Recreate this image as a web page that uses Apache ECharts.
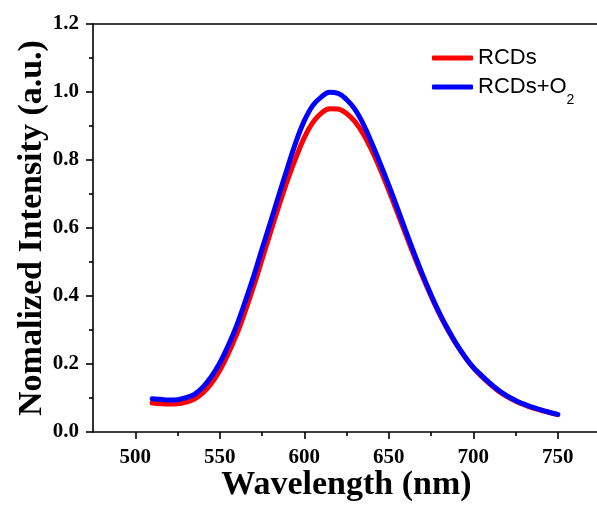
<!DOCTYPE html>
<html>
<head>
<meta charset="utf-8">
<script src="https://cdn.jsdelivr.net/npm/echarts@6/dist/echarts.min.js"></script>
<style>html,body{margin:0;padding:0;background:#fff;}#c{width:597px;height:507px;}</style>
</head>
<body>
<div id="c"></div>
<script>
const wavelength = [510,515,520,525,530,535,540,545,550,555,560,565,570,575,580,585,590,595,600,605,610,615,620,625,630,635,640,645,650,655,660,665,670,675,680,685,690,695,700,705,710,715,720,725,730,735,740,745,750];
const rcds = [0.085,0.083,0.082,0.083,0.088,0.097,0.115,0.143,0.181,0.230,0.287,0.354,0.428,0.507,0.587,0.665,0.739,0.806,0.866,0.910,0.937,0.951,0.950,0.937,0.913,0.876,0.828,0.772,0.711,0.647,0.582,0.518,0.457,0.400,0.347,0.300,0.258,0.221,0.189,0.163,0.140,0.120,0.104,0.091,0.080,0.071,0.064,0.057,0.051];
const rcdsO2 = [0.098,0.096,0.094,0.095,0.101,0.111,0.132,0.163,0.203,0.254,0.313,0.383,0.457,0.538,0.617,0.697,0.776,0.852,0.915,0.960,0.985,0.999,0.996,0.978,0.949,0.905,0.849,0.789,0.726,0.660,0.592,0.526,0.463,0.404,0.350,0.302,0.259,0.222,0.190,0.166,0.143,0.123,0.106,0.093,0.082,0.073,0.065,0.058,0.052];
const xMajorTicks = [500,550,600,650,700,750];
const xMinorTicks = [525,575,625,675,725];
const seriesNames = ['RCDs','RCDs+O2'];

const chart = echarts.init(document.getElementById('c'));
const serif = "'Liberation Serif','Times New Roman',serif";
const sans = "'Liberation Sans',Arial,sans-serif";
const axisLineStyle = {color:'#000', width:1.6};
const xRange = {min:475, max:775};

chart.setOption({
  animation:false,
  backgroundColor:'#fff',
  grid:{left:93, top:24, width:507, height:408, containLabel:false, outerBoundsMode:'none'},
  legend:{
    orient:'vertical', left:427, top:41, itemGap:5,
    itemWidth:41, itemHeight:5, icon:'roundRect',
    data:seriesNames,
    textStyle:{fontFamily:sans, fontSize:22, color:'#000', lineHeight:24,
      rich:{
        t:{fontFamily:sans, fontSize:22, color:'#000', lineHeight:24},
        s:{fontFamily:sans, fontSize:14, color:'#000', verticalAlign:'bottom', lineHeight:24, padding:[0,0,-8,0]}
      }},
    formatter: n => n === 'RCDs+O2' ? '{t|RCDs+O}{s|2}' : '{t|' + n + '}'
  },
  xAxis:[
    {type:'value', ...xRange, position:'bottom',
     name:'Wavelength (nm)', nameLocation:'middle', nameGap:36, nameMoveOverlap:false,
     nameTextStyle:{fontFamily:serif, fontWeight:'bold', fontSize:34, color:'#000'},
     axisLine:{show:true, lineStyle:axisLineStyle},
     axisTick:{show:true, inside:false, length:7, lineStyle:axisLineStyle, customValues:xMajorTicks},
     axisLabel:{show:true, margin:15, fontFamily:serif, fontWeight:'bold', fontSize:21, color:'#000', customValues:xMajorTicks},
     splitLine:{show:false}},
    {type:'value', ...xRange, position:'bottom',
     axisLine:{show:false},
     axisTick:{show:true, inside:false, length:4, lineStyle:axisLineStyle, customValues:xMinorTicks},
     axisLabel:{show:false},
     splitLine:{show:false}},
    {type:'value', ...xRange, position:'top',
     axisLine:{show:true, lineStyle:axisLineStyle},
     axisTick:{show:false}, axisLabel:{show:false}, splitLine:{show:false}}
  ],
  yAxis:{
    type:'value', min:0, max:1.2, interval:0.2,
    name:'Nomalized Intensity (a.u.)', nameLocation:'middle', nameGap:44, nameMoveOverlap:false,
    nameTextStyle:{fontFamily:serif, fontWeight:'bold', fontSize:34, color:'#000'},
    axisLine:{show:true, lineStyle:axisLineStyle},
    axisTick:{show:true, inside:false, length:7, lineStyle:axisLineStyle},
    minorTick:{show:true, splitNumber:2, length:4, lineStyle:axisLineStyle},
    axisLabel:{margin:14, fontFamily:serif, fontWeight:'bold', fontSize:21, color:'#000', formatter:v=>v.toFixed(1)},
    splitLine:{show:false}, minorSplitLine:{show:false}
  },
  series:[
    {name:seriesNames[0], type:'line', xAxisIndex:0, showSymbol:false, smooth:0.4,
     data:wavelength.map((w,i)=>[w,rcds[i]]),
     color:'#ff0000', lineStyle:{width:5, color:'#ff0000', cap:'round'}, z:2},
    {name:seriesNames[1], type:'line', xAxisIndex:0, showSymbol:false, smooth:0.4,
     data:wavelength.map((w,i)=>[w,rcdsO2[i]]),
     color:'#0000ff', lineStyle:{width:5, color:'#0000ff', cap:'round'}, z:3}
  ]
});
</script>
</body>
</html>
